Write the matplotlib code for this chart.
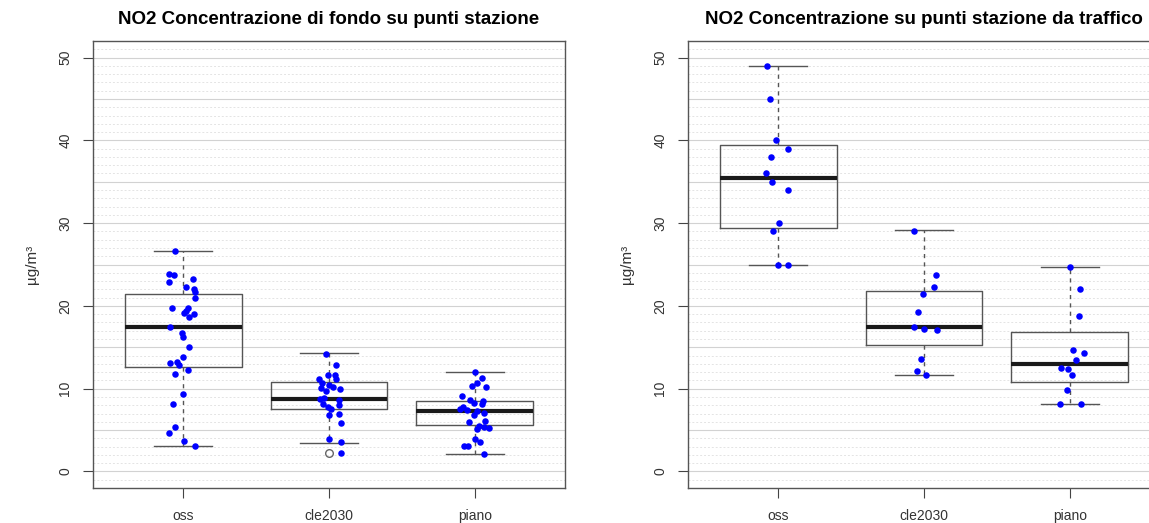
import matplotlib
matplotlib.use('Agg')
import matplotlib.pyplot as plt
import numpy as np

plt.rcParams['font.family'] = ['Liberation Sans', 'DejaVu Sans']

categories = ['oss', 'cle2030', 'piano']
titles = ['NO2 Concentrazione di fondo su punti stazione',
          'NO2 Concentrazione su punti stazione da traffico']
ylabel = 'µg/m³'
yticks = [0, 10, 20, 30, 40, 50]

# --- fondo (left) ---
fondo_oss = [26.6, 23.9, 23.7, 22.9, 23.2, 22.3, 22.0, 21.7, 20.9, 19.8, 19.8,
             19.4, 19.2, 19.0, 18.6, 17.5, 16.7, 16.3, 15.0, 13.8, 13.1, 13.2,
             12.9, 12.2, 11.8, 9.3, 8.2, 5.4, 4.6, 3.7, 3.1]
fondo_oss_jit = [-0.055, -0.10, -0.062, -0.096, 0.064, 0.018, 0.076, 0.082, 0.082,
                 -0.078, 0.03, 0.018, 0.007, 0.076, 0.041, -0.089, -0.009, 0.0,
                 0.041, 0.0, -0.092, -0.046, -0.027, 0.034, -0.055, -0.005,
                 -0.073, -0.055, -0.096, 0.007, 0.082]
fondo_cle = [14.2, 12.9, 11.7, 11.7, 11.2, 11.2, 10.7, 10.5, 10.1, 10.2, 9.9, 9.7,
             8.7, 8.9, 8.6, 8.1, 7.8, 7.6, 8.0, 6.8, 7.0, 5.9, 3.9, 3.5, 2.2]
fondo_cle_jit = [-0.019, 0.045, 0.038, -0.008, -0.07, 0.045, -0.047, 0.003, -0.054,
                 0.026, 0.077, -0.019, -0.065, -0.031, 0.068, -0.042, -0.008,
                 0.015, 0.072, 0.003, 0.072, 0.084, 0.003, 0.084, 0.084]
fondo_piano = [12.0, 11.3, 10.7, 10.3, 10.2, 9.1, 8.6, 8.5, 8.3, 7.8, 8.1, 7.5,
               7.4, 7.3, 7.1, 6.8, 6.0, 6.1, 5.5, 5.4, 5.3, 5.1, 3.9, 3.5, 3.1,
               3.1, 2.05]
fondo_piano_jit = [0.005, 0.051, 0.016, -0.018, 0.08, -0.087, -0.03, 0.058, -0.007,
                   -0.08, 0.051, -0.098, -0.053, 0.016, 0.067, -0.007, -0.041,
                   0.073, 0.027, 0.062, 0.096, 0.016, 0.005, 0.034, -0.075,
                   -0.048, 0.067]

# box stats: whislo, q1, med, q3, whishi
fondo_box = [[3.1, 12.6, 17.5, 21.4, 26.6],
             [3.4, 7.6, 8.7, 10.8, 14.25],
             [2.05, 5.6, 7.25, 8.5, 12.0]]
fondo_out = [[], [2.2], []]

# --- traffico (right) ---
traf_oss = [49, 45, 40, 39, 38, 36, 35, 34, 30, 29, 25, 25]
traf_oss_jit = [-0.076, -0.057, -0.014, 0.066, -0.053, -0.082, -0.046, 0.066,
                0.005, -0.037, 0.0, 0.069]
traf_cle = [29.1, 23.7, 22.3, 21.4, 19.3, 17.5, 17.2, 17.1, 13.6, 12.1, 11.6]
traf_cle_jit = [-0.069, 0.082, 0.069, -0.005, -0.039, -0.069, 0.0, 0.087,
                -0.023, -0.05, 0.014]
traf_piano = [24.7, 22.0, 18.8, 14.7, 14.3, 13.5, 12.5, 12.4, 11.7, 9.8, 8.2, 8.2]
traf_piano_jit = [0.005, 0.073, 0.064, 0.023, 0.096, 0.046, -0.057, -0.011,
                  0.016, -0.016, -0.064, 0.08]

traf_box = [[25.0, 29.4, 35.5, 39.4, 49.0],
            [11.7, 15.3, 17.4, 21.8, 29.2],
            [8.2, 10.8, 13.0, 16.8, 24.7]]
traf_out = [[], [], []]


def draw_panel(ax, title, boxes, outs, points, jits):
    # background grid lines, darker every 5
    for h in range(-1, 52):
        if h % 5 == 0:
            ax.axhline(h, color='#d2d2d2', lw=0.8, zorder=0)
        else:
            ax.axhline(h, color='#e4e4e4', lw=0.7, ls=(0, (2, 2)), zorder=0)

    stats = []
    for lab, b, o in zip(categories, boxes, outs):
        stats.append({'label': lab, 'whislo': b[0], 'q1': b[1], 'med': b[2],
                      'q3': b[3], 'whishi': b[4], 'fliers': o})
    ax.bxp(stats, positions=[1, 2, 3], widths=0.8, showfliers=True,
           boxprops=dict(color='#555555', lw=1.0),
           whiskerprops=dict(color='#555555', lw=1.0, ls=(0, (3, 3))),
           capprops=dict(color='#555555', lw=1.0),
           medianprops=dict(color='#1a1a1a', lw=3),
           flierprops=dict(marker='o', mfc='none', mec='#666666', ms=5.5),
           capwidths=0.4)

    for i, (vals, jit) in enumerate(zip(points, jits)):
        xs = [i + 1 + j for j in jit]
        ax.scatter(xs, vals, s=22, color='#0000ff', zorder=5, linewidths=0)

    ax.set_xlim(0.38, 3.62)
    ax.set_ylim(-2, 52)
    ax.set_yticks(yticks)
    ax.set_yticklabels([str(t) for t in yticks], rotation=90, va='center')
    ax.set_xticks([1, 2, 3])
    ax.set_xticklabels(categories)
    ax.tick_params(direction='out', length=7, color='#444444', labelsize=10,
                   labelcolor='#333333', pad=8)
    for s in ax.spines.values():
        s.set_color('#555555')
        s.set_linewidth(1.0)
    ax.set_title(title, fontsize=13.5, fontweight='bold', pad=12)
    ax.set_ylabel(ylabel, fontsize=11, color='#333333', labelpad=14)


fig = plt.figure(figsize=(11.49, 5.23), dpi=100)
ax1 = fig.add_axes([93 / 1149, 35 / 523, 472 / 1149, 447 / 523])
ax2 = fig.add_axes([688 / 1149, 35 / 523, 472 / 1149, 447 / 523])

draw_panel(ax1, titles[0], fondo_box, fondo_out,
           [fondo_oss, fondo_cle, fondo_piano],
           [fondo_oss_jit, fondo_cle_jit, fondo_piano_jit])
draw_panel(ax2, titles[1], traf_box, traf_out,
           [traf_oss, traf_cle, traf_piano],
           [traf_oss_jit, traf_cle_jit, traf_piano_jit])

fig.savefig('out.png', dpi=100)
